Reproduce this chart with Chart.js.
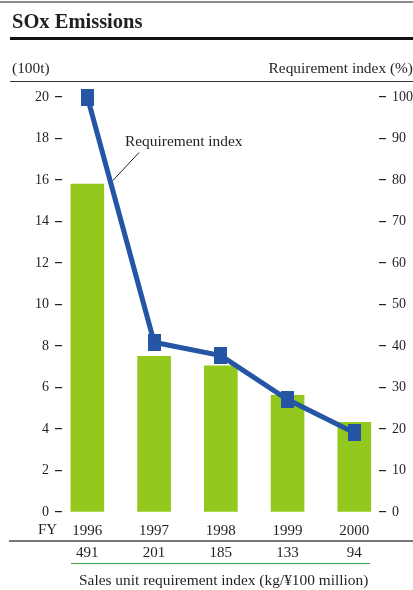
<!DOCTYPE html>
<html>
<head>
<meta charset="utf-8">
<script src="https://cdn.jsdelivr.net/npm/chart.js@4"></script>
<style>
  body { margin: 0; background: #fff; }
  #wrap { position: relative; width: 413px; height: 590px; font-family: "Liberation Serif", serif; color: #231f20; }
  #wrap canvas { position: absolute; left: 0; top: 0; }
  .rule { position: absolute; }
  .txt { position: absolute; white-space: nowrap; line-height: 1; }
</style>
</head>
<body>
<div id="wrap">
  <canvas id="sox" width="413" height="590"></canvas>

  <div class="rule" style="top:1px;left:0;width:413px;height:2px;background:#8c8c8c"></div>
  <div class="txt" style="top:11px;left:12px;font-size:20.5px;font-weight:bold">SOx Emissions</div>
  <div class="rule" style="top:37px;left:10px;width:403px;height:3px;background:#111"></div>

  <div class="txt" style="top:60px;left:12px;font-size:15.4px">(100t)</div>
  <div class="txt" style="top:60px;right:0;font-size:15.4px">Requirement index (%)</div>
  <div class="rule" style="top:81px;left:10px;width:403px;height:1px;background:#333"></div>

  <div class="txt" style="top:522px;left:38px;font-size:15px">FY</div>
  <div class="rule" style="top:540px;left:9px;width:404px;height:2px;background:#777"></div>
  <div class="rule" style="top:563px;left:71px;width:299px;height:1px;background:#3aa54a"></div>
  <div class="txt" style="top:572px;left:79px;font-size:15.4px">Sales unit requirement index (kg/¥100 million)</div>
</div>

<script>
const years = [1996, 1997, 1998, 1999, 2000];
const emissions = [15.8, 7.5, 7.05, 5.62, 4.32];          // 100t
const requirementIndex = [100, 40.9, 37.7, 27.1, 19.1];    // %
const salesUnitIndex = [491, 201, 185, 133, 94];           // kg/¥100 million

const green = '#92c91c';
const blue = '#2456a5';
const ink = '#231f20';

// square-ish marker for the index line
const marker = document.createElement('canvas');
marker.width = 13;
marker.height = 17;
const mctx = marker.getContext('2d');
mctx.fillStyle = blue;
mctx.fillRect(0, 0, 13, 17);

// "Requirement index" caption with its leader line onto the first segment
const leaderLabel = {
  id: 'leaderLabel',
  afterDatasetsDraw(chart) {
    const ctx = chart.ctx;
    const x = chart.scales.x, y1 = chart.scales.y1;
    const ax = x.getPixelForValue(years[0]), ay = y1.getPixelForValue(requirementIndex[0]);
    const bx = x.getPixelForValue(years[1]), by = y1.getPixelForValue(requirementIndex[1]);
    const t = 0.34;
    const ex = ax + (bx - ax) * t + 3, ey = ay + (by - ay) * t;
    ctx.save();
    ctx.strokeStyle = ink;
    ctx.lineWidth = 1;
    ctx.beginPath();
    ctx.moveTo(139, 152.5);
    ctx.lineTo(ex, ey);
    ctx.stroke();
    ctx.fillStyle = ink;
    ctx.font = '15.4px "Liberation Serif"';
    ctx.textBaseline = 'middle';
    ctx.fillText('Requirement index', 125, 142);
    ctx.restore();
  }
};

// sales unit index row under the year labels
const salesRow = {
  id: 'salesRow',
  afterDraw(chart) {
    const ctx = chart.ctx;
    const x = chart.scales.x;
    ctx.save();
    ctx.fillStyle = ink;
    ctx.font = '15px "Liberation Serif"';
    ctx.textAlign = 'center';
    ctx.textBaseline = 'middle';
    years.forEach((yr, i) => {
      ctx.fillText(String(salesUnitIndex[i]), x.getPixelForValue(yr), 553);
    });
    ctx.restore();
  }
};

const tickFont = { family: '"Liberation Serif"', size: 14 };

new Chart(document.getElementById('sox'), {
  type: 'bar',
  data: {
    datasets: [
      {
        type: 'line',
        label: 'Requirement index',
        data: years.map((yr, i) => ({ x: yr, y: requirementIndex[i] })),
        yAxisID: 'y1',
        borderColor: blue,
        borderWidth: 5,
        pointStyle: marker,
        pointRadius: 8,
        tension: 0,
        clip: false,
        order: 0
      },
      {
        label: 'SOx emissions',
        data: years.map((yr, i) => ({ x: yr, y: emissions[i] })),
        yAxisID: 'y',
        backgroundColor: green,
        barThickness: 33,
        order: 1
      }
    ]
  },
  options: {
    responsive: false,
    animation: false,
    layout: { padding: { top: 97, bottom: 38, left: 0, right: 0 } },
    plugins: { legend: { display: false }, tooltip: { enabled: false } },
    scales: {
      x: {
        type: 'linear',
        offset: false,
        min: years[0] - 0.38,
        max: years[years.length - 1] + 0.37,
        grid: { display: false, drawTicks: false },
        border: { display: false },
        afterBuildTicks: (scale) => { scale.ticks = years.map(v => ({ value: v })); },
        afterFit: (scale) => { scale.height = 40; },
        ticks: {
          padding: 10,
          color: ink,
          font: { family: '"Liberation Serif"', size: 15, lineHeight: 1.2 },
          callback: (v) => String(v)
        }
      },
      y: {
        position: 'left',
        min: 0,
        max: 20,
        border: { display: false },
        grid: { drawOnChartArea: false, tickLength: 7, color: ink, lineWidth: 1.2 },
        afterFit: (scale) => { scale.width = 62; },
        ticks: { stepSize: 2, padding: 6, color: ink, font: tickFont }
      },
      y1: {
        position: 'right',
        min: 0,
        max: 100,
        border: { display: false },
        grid: { drawOnChartArea: false, tickLength: 7, color: ink, lineWidth: 1.2 },
        afterFit: (scale) => { scale.width = 34; },
        ticks: { stepSize: 10, padding: 6, color: ink, font: tickFont }
      }
    }
  },
  plugins: [leaderLabel, salesRow]
});
</script>
</body>
</html>
